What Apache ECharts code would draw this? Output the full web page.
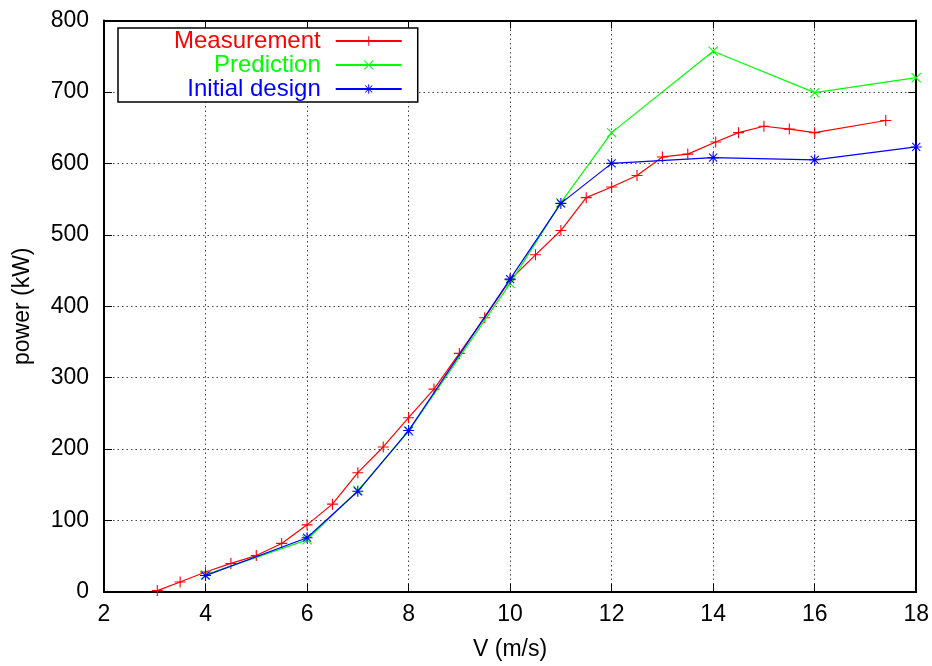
<!DOCTYPE html>
<html>
<head>
<meta charset="utf-8">
<script src="https://cdn.jsdelivr.net/npm/echarts@6/dist/echarts.min.js"></script>
<style>
html,body{margin:0;padding:0;background:#fff;}
#chart{width:932px;height:666px;}
</style>
</head>
<body>
<div id="chart"></div>
<script>
// Data
const measV = [3.05, 3.5, 4, 4.5, 5, 5.5, 6, 6.5, 7, 7.5, 8, 8.5, 9, 9.5, 10, 10.5, 11, 11.5, 12, 12.5, 13, 13.5, 14.05, 14.5, 15, 15.5, 16, 17.4];
const measP = [2, 14, 28, 40, 51, 68, 94, 123, 167, 203, 244, 284, 334, 384, 437, 472, 506, 552, 567, 583, 609, 613, 630, 643, 652, 648, 643, 660];
const predV = [4, 6, 7, 8, 10, 11, 12, 14, 16, 18];
const predP = [24, 73, 142, 225, 432, 545, 643, 757, 699, 720];
const initV = [4, 6, 7, 8, 10, 11, 12, 14, 16, 18];
const initP = [23, 76, 141, 226, 438, 544, 600, 608, 605, 623];
const xTicks = [2, 4, 6, 8, 10, 12, 14, 16, 18];
const yTicks = [0, 100, 200, 300, 400, 500, 600, 700, 800];
const seriesNames = ['Measurement', 'Prediction', 'Initial design'];
const seriesColors = ['#ff0000', '#00ff00', '#0000ff'];

const PLUS = 'path://M5.4,0 H6.6 V5.4 H12 V6.6 H6.6 V12 H5.4 V6.6 H0 V5.4 H5.4 Z';
const CROSS = 'path://M0,0.9 L0.9,0 L12,11.1 L11.1,12 Z M11.1,0 L12,0.9 L0.9,12 L0,11.1 Z';
const STAR = 'path://M5.4,0 H6.6 V5.4 H12 V6.6 H6.6 V12 H5.4 V6.6 H0 V5.4 H5.4 Z M1.2,2.0 L2.0,1.2 L10.8,10.0 L10.0,10.8 Z M10.0,1.2 L10.8,2.0 L2.0,10.8 L1.2,10.0 Z';

function pairs(xs, ys){ return xs.map((x,i)=>[x, ys[i]]); }

const FONT = 'Liberation Sans, Arial, sans-serif';
const gridLine = {show:true, lineStyle:{color:'#444', width:1, type:[1.5,3]}};

const chart = echarts.init(document.getElementById('chart'), null, {renderer:'canvas'});
chart.setOption({
  animation:false,
  backgroundColor:'#fff',
  grid:{left:104, right:15, top:20.5, bottom:73.5, containLabel:false},
  legend:{
    orient:'vertical', left:118, top:28,
    align:'right',
    itemWidth:66, itemHeight:12, itemGap:0,
    padding:[1,15,1,56],
    backgroundColor:'#fff', borderColor:'#000', borderWidth:1.5, borderRadius:0,
    textStyle:{fontFamily:FONT, fontSize:24, lineHeight:24, padding:[0,10,0,0]},
    data: seriesNames.map((n,i)=>({name:n, textStyle:{color:seriesColors[i]}}))
  },
  xAxis:[{
    type:'value', min:xTicks[0], max:xTicks[xTicks.length-1], interval:2,
    name:'V (m/s)', nameLocation:'middle', nameGap:46,
    nameTextStyle:{fontFamily:FONT, fontSize:23, color:'#000'},
    axisLine:{show:true, onZero:false, lineStyle:{color:'#000', width:2}},
    axisTick:{show:true, inside:true, length:8, lineStyle:{color:'#000', width:1}},
    axisLabel:{fontFamily:FONT, fontSize:23, color:'#000', margin:11},
    splitLine:gridLine
  },{
    type:'value', position:'top', min:xTicks[0], max:xTicks[xTicks.length-1], interval:2,
    axisLine:{show:true, onZero:false, lineStyle:{color:'#000', width:2}},
    axisTick:{show:true, inside:true, length:8, lineStyle:{color:'#000', width:1}},
    axisLabel:{show:false}, splitLine:{show:false}
  }],
  yAxis:[{
    type:'value', min:yTicks[0], max:yTicks[yTicks.length-1], interval:100,
    name:'power (kW)', nameLocation:'middle', nameGap:70,
    nameTextStyle:{fontFamily:FONT, fontSize:23, color:'#000'},
    axisLine:{show:true, onZero:false, lineStyle:{color:'#000', width:2}},
    axisTick:{show:true, inside:true, length:8, lineStyle:{color:'#000', width:1}},
    axisLabel:{fontFamily:FONT, fontSize:23, color:'#000', margin:15},
    splitLine:gridLine
  },{
    type:'value', position:'right', min:yTicks[0], max:yTicks[yTicks.length-1], interval:100,
    axisLine:{show:true, onZero:false, lineStyle:{color:'#000', width:2}},
    axisTick:{show:true, inside:true, length:8, lineStyle:{color:'#000', width:1}},
    axisLabel:{show:false}, splitLine:{show:false}
  }],
  series:[
    {name:seriesNames[0], type:'line', data:pairs(measV, measP), symbol:PLUS, symbolSize:11,
     lineStyle:{color:seriesColors[0], width:1.2}, itemStyle:{color:seriesColors[0]}, z:3},
    {name:seriesNames[1], type:'line', data:pairs(predV, predP), symbol:CROSS, symbolSize:10,
     lineStyle:{color:seriesColors[1], width:1.2}, itemStyle:{color:seriesColors[1]}, z:4},
    {name:seriesNames[2], type:'line', data:pairs(initV, initP), symbol:STAR, symbolSize:11,
     lineStyle:{color:seriesColors[2], width:1.2}, itemStyle:{color:seriesColors[2]}, z:5}
  ]
});
</script>
</body>
</html>
